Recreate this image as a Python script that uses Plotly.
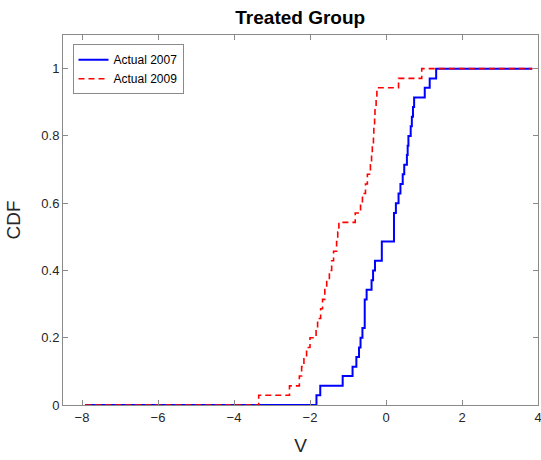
import plotly.graph_objects as go

# Empirical CDF step points (x of jump, CDF level after jump)
x_2007 = [-7.92, -1.83, -1.73, -1.14, -0.88, -0.78, -0.71, -0.67, -0.62, -0.56,
          -0.51, -0.38, -0.34, -0.29, -0.11, 0.21, 0.26, 0.33, 0.38, 0.44,
          0.48, 0.55, 0.57, 0.59, 0.65, 0.68, 0.71, 0.74, 1.02, 1.15, 1.32, 3.85]
cdf_2007 = [0.0, 0.029, 0.057, 0.086, 0.114, 0.143, 0.171, 0.200, 0.229, 0.314,
            0.343, 0.371, 0.400, 0.429, 0.486, 0.571, 0.600, 0.629, 0.657, 0.686,
            0.714, 0.743, 0.771, 0.800, 0.829, 0.857, 0.886, 0.914, 0.943, 0.971, 1.0, 1.0]

x_2009 = [-7.92, -3.35, -2.54, -2.28, -2.22, -2.16, -2.09, -2.00, -1.84, -1.80,
          -1.72, -1.67, -1.61, -1.56, -1.49, -1.43, -1.38, -1.30, -1.27, -1.24,
          -0.81, -0.67, -0.62, -0.54, -0.49, -0.41, -0.38, -0.36, -0.33, -0.32,
          -0.30, -0.29, -0.26, -0.24, 0.33, 0.94, 3.85]
cdf_2009 = [0.0, 0.029, 0.057, 0.086, 0.114, 0.143, 0.171, 0.200, 0.229, 0.257,
            0.286, 0.314, 0.343, 0.371, 0.400, 0.429, 0.457, 0.486, 0.514, 0.543,
            0.571, 0.600, 0.629, 0.657, 0.686, 0.714, 0.743, 0.771, 0.800, 0.829,
            0.857, 0.886, 0.914, 0.943, 0.971, 1.0, 1.0]

x_ticks = [-8, -6, -4, -2, 0, 2, 4]
y_ticks = [0, 0.2, 0.4, 0.6, 0.8, 1]

fig = go.Figure()
fig.add_trace(go.Scatter(x=x_2007, y=cdf_2007, mode="lines", name="Actual 2007",
                         line=dict(color="rgb(0,0,255)", width=2, shape="hv")))
fig.add_trace(go.Scatter(x=x_2009, y=cdf_2009, mode="lines", name="Actual 2009",
                         line=dict(color="rgb(255,0,0)", width=1.6, shape="hv", dash="6px,4px")))

axis_common = dict(showgrid=False, zeroline=False, showline=True, linecolor="#8a8a8a",
                   linewidth=1, mirror="ticks", ticks="inside", ticklen=5,
                   tickcolor="#8a8a8a", ticklabeloverflow="allow", automargin=False,
                   tickfont=dict(family="Liberation Sans, Arial", size=13, color="#262626"))

fig.update_layout(
    width=541, height=460,
    margin=dict(l=63, r=3, t=35, b=55),
    paper_bgcolor="white", plot_bgcolor="white",
    title=dict(text="<b>Treated Group</b>", x=0.555, xanchor="center", y=0.963, yanchor="middle",
               font=dict(family="Liberation Sans, Arial", size=19, color="black")),
    xaxis=dict(range=[-8.5, 4], tickvals=x_ticks,
               title=dict(text="V", font=dict(family="Liberation Sans, Arial", size=19, color="#262626")),
               **axis_common),
    yaxis=dict(range=[0, 1.1], tickvals=y_ticks, ticktext=["0", "0.2", "0.4", "0.6", "0.8", "1"],
               title=dict(text="CDF", font=dict(family="Liberation Sans, Arial", size=19, color="#262626")),
               **axis_common),
    legend=dict(x=0.02, y=0.975, xanchor="left", yanchor="top", bgcolor="white",
                bordercolor="#8a8a8a", borderwidth=1, tracegroupgap=0,
                font=dict(family="Liberation Sans, Arial", size=12, color="black")),
    showlegend=True,
)

fig.write_html("out.html")
